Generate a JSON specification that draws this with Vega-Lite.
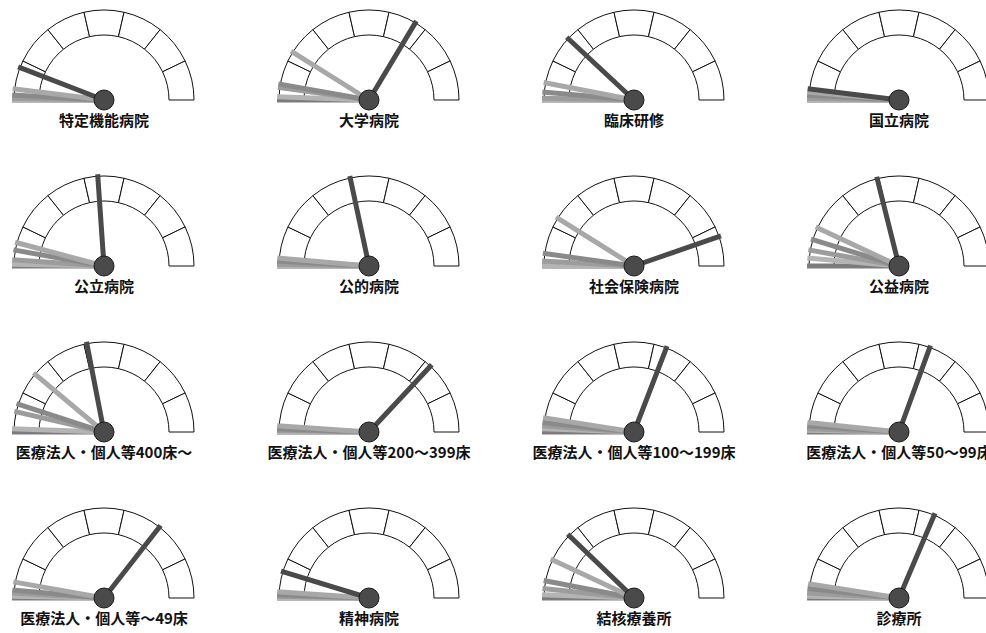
{
  "$schema": "https://vega.github.io/schema/vega-lite/v6.json",
  "width": 986,
  "height": 633,
  "autosize": {"type": "none"},
  "padding": 0,
  "background": "white",
  "config": {"view": {"stroke": null}},
  "datasets": {
    "gauges": [
      {"name": "特定機能病院", "col": 0, "row": 0, "a": [0,1,2,3,4,5,6], "b": [1,2,3,4,5,6,7]},
      {"name": "大学病院", "col": 1, "row": 0, "a": [0,1,2,3,4,5,6], "b": [1,2,3,4,5,6,7]},
      {"name": "臨床研修", "col": 2, "row": 0, "a": [0,1,2,3,4,5,6], "b": [1,2,3,4,5,6,7]},
      {"name": "国立病院", "col": 3, "row": 0, "a": [0,1,2,3,4,5,6], "b": [1,2,3,4,5,6,7]},
      {"name": "公立病院", "col": 0, "row": 1, "a": [0,1,2,3,4,5,6], "b": [1,2,3,4,5,6,7]},
      {"name": "公的病院", "col": 1, "row": 1, "a": [0,1,2,3,4,5,6], "b": [1,2,3,4,5,6,7]},
      {"name": "社会保険病院", "col": 2, "row": 1, "a": [0,1,2,3,4,5,6], "b": [1,2,3,4,5,6,7]},
      {"name": "公益病院", "col": 3, "row": 1, "a": [0,1,2,3,4,5,6], "b": [1,2,3,4,5,6,7]},
      {"name": "医療法人・個人等400床〜", "col": 0, "row": 2, "a": [0,1,2,3,4,5,6], "b": [1,2,3,4,5,6,7]},
      {"name": "医療法人・個人等200〜399床", "col": 1, "row": 2, "a": [0,1,2,3,4,5,6], "b": [1,2,3,4,5,6,7]},
      {"name": "医療法人・個人等100〜199床", "col": 2, "row": 2, "a": [0,1,2,3,4,5,6], "b": [1,2,3,4,5,6,7]},
      {"name": "医療法人・個人等50〜99床", "col": 3, "row": 2, "a": [0,1,2,3,4,5,6], "b": [1,2,3,4,5,6,7]},
      {"name": "医療法人・個人等〜49床", "col": 0, "row": 3, "a": [0,1,2,3,4,5,6], "b": [1,2,3,4,5,6,7]},
      {"name": "精神病院", "col": 1, "row": 3, "a": [0,1,2,3,4,5,6], "b": [1,2,3,4,5,6,7]},
      {"name": "結核療養所", "col": 2, "row": 3, "a": [0,1,2,3,4,5,6], "b": [1,2,3,4,5,6,7]},
      {"name": "診療所", "col": 3, "row": 3, "a": [0,1,2,3,4,5,6], "b": [1,2,3,4,5,6,7]}
    ],
    "needles": [
      {"g": "特定機能病院", "s": "6", "v": 0}, {"g": "特定機能病院", "s": "5", "v": 0}, {"g": "特定機能病院", "s": "4", "v": 0.6}, {"g": "特定機能病院", "s": "3", "v": 1.7}, {"g": "特定機能病院", "s": "2", "v": 3.9}, {"g": "特定機能病院", "s": "1", "v": 11.7},
      {"g": "大学病院", "s": "6", "v": 0}, {"g": "大学病院", "s": "5", "v": 1.1}, {"g": "大学病院", "s": "4", "v": 4.4}, {"g": "大学病院", "s": "3", "v": 5.6}, {"g": "大学病院", "s": "2", "v": 17.8}, {"g": "大学病院", "s": "1", "v": 67.2},
      {"g": "臨床研修", "s": "6", "v": 0}, {"g": "臨床研修", "s": "5", "v": 0}, {"g": "臨床研修", "s": "4", "v": 0.6}, {"g": "臨床研修", "s": "3", "v": 2.8}, {"g": "臨床研修", "s": "2", "v": 6.1}, {"g": "臨床研修", "s": "1", "v": 23.9},
      {"g": "国立病院", "s": "6", "v": 0}, {"g": "国立病院", "s": "5", "v": 0}, {"g": "国立病院", "s": "4", "v": 0.6}, {"g": "国立病院", "s": "3", "v": 1.7}, {"g": "国立病院", "s": "2", "v": 2.8}, {"g": "国立病院", "s": "1", "v": 3.9},
      {"g": "公立病院", "s": "6", "v": 0}, {"g": "公立病院", "s": "5", "v": 0.6}, {"g": "公立病院", "s": "4", "v": 2.2}, {"g": "公立病院", "s": "3", "v": 5.6}, {"g": "公立病院", "s": "2", "v": 8.3}, {"g": "公立病院", "s": "1", "v": 47.8},
      {"g": "公的病院", "s": "6", "v": 0}, {"g": "公的病院", "s": "5", "v": 0}, {"g": "公的病院", "s": "4", "v": 0.6}, {"g": "公的病院", "s": "3", "v": 1.7}, {"g": "公的病院", "s": "2", "v": 2.8}, {"g": "公的病院", "s": "1", "v": 43.3},
      {"g": "社会保険病院", "s": "6", "v": 0}, {"g": "社会保険病院", "s": "5", "v": 0}, {"g": "社会保険病院", "s": "4", "v": 1.7}, {"g": "社会保険病院", "s": "3", "v": 4.4}, {"g": "社会保険病院", "s": "2", "v": 17.8}, {"g": "社会保険病院", "s": "1", "v": 89.4},
      {"g": "公益病院", "s": "6", "v": 0}, {"g": "公益病院", "s": "5", "v": 2.8}, {"g": "公益病院", "s": "4", "v": 5.6}, {"g": "公益病院", "s": "3", "v": 9.4}, {"g": "公益病院", "s": "2", "v": 13.9}, {"g": "公益病院", "s": "1", "v": 42.2},
      {"g": "医療法人・個人等400床〜", "s": "6", "v": 0}, {"g": "医療法人・個人等400床〜", "s": "5", "v": 1.1}, {"g": "医療法人・個人等400床〜", "s": "4", "v": 7.2}, {"g": "医療法人・個人等400床〜", "s": "3", "v": 10.0}, {"g": "医療法人・個人等400床〜", "s": "2", "v": 22.2}, {"g": "医療法人・個人等400床〜", "s": "1", "v": 43.9},
      {"g": "医療法人・個人等200〜399床", "s": "6", "v": 0}, {"g": "医療法人・個人等200〜399床", "s": "5", "v": 0}, {"g": "医療法人・個人等200〜399床", "s": "4", "v": 0.6}, {"g": "医療法人・個人等200〜399床", "s": "3", "v": 1.1}, {"g": "医療法人・個人等200〜399床", "s": "2", "v": 2.2}, {"g": "医療法人・個人等200〜399床", "s": "1", "v": 73.9},
      {"g": "医療法人・個人等100〜199床", "s": "6", "v": 0}, {"g": "医療法人・個人等100〜199床", "s": "5", "v": 1.1}, {"g": "医療法人・個人等100〜199床", "s": "4", "v": 2.2}, {"g": "医療法人・個人等100〜199床", "s": "3", "v": 3.3}, {"g": "医療法人・個人等100〜199床", "s": "2", "v": 5.0}, {"g": "医療法人・個人等100〜199床", "s": "1", "v": 61.7},
      {"g": "医療法人・個人等50〜99床", "s": "6", "v": 0}, {"g": "医療法人・個人等50〜99床", "s": "5", "v": 0.6}, {"g": "医療法人・個人等50〜99床", "s": "4", "v": 1.1}, {"g": "医療法人・個人等50〜99床", "s": "3", "v": 2.2}, {"g": "医療法人・個人等50〜99床", "s": "2", "v": 3.3}, {"g": "医療法人・個人等50〜99床", "s": "1", "v": 61.1},
      {"g": "医療法人・個人等〜49床", "s": "6", "v": 0}, {"g": "医療法人・個人等〜49床", "s": "5", "v": 0.6}, {"g": "医療法人・個人等〜49床", "s": "4", "v": 1.7}, {"g": "医療法人・個人等〜49床", "s": "3", "v": 2.8}, {"g": "医療法人・個人等〜49床", "s": "2", "v": 5.6}, {"g": "医療法人・個人等〜49床", "s": "1", "v": 71.1},
      {"g": "精神病院", "s": "6", "v": 0}, {"g": "精神病院", "s": "5", "v": 0}, {"g": "精神病院", "s": "4", "v": 0.6}, {"g": "精神病院", "s": "3", "v": 1.1}, {"g": "精神病院", "s": "2", "v": 2.2}, {"g": "精神病院", "s": "1", "v": 9.4},
      {"g": "結核療養所", "s": "6", "v": 0}, {"g": "結核療養所", "s": "5", "v": 1.1}, {"g": "結核療養所", "s": "4", "v": 3.3}, {"g": "結核療養所", "s": "3", "v": 6.1}, {"g": "結核療養所", "s": "2", "v": 13.9}, {"g": "結核療養所", "s": "1", "v": 24.4},
      {"g": "診療所", "s": "6", "v": 0}, {"g": "診療所", "s": "5", "v": 0.6}, {"g": "診療所", "s": "4", "v": 1.7}, {"g": "診療所", "s": "3", "v": 3.3}, {"g": "診療所", "s": "2", "v": 5.0}, {"g": "診療所", "s": "1", "v": 62.8}
    ]
  },
  "encoding": {
    "x": {"field": "col", "type": "quantitative", "axis": null, "scale": {"domain": [-0.3925, 3.3283], "nice": false, "zero": false}},
    "y": {"field": "row", "type": "quantitative", "axis": null, "scale": {"domain": [-0.6024, 3.2108], "nice": false, "zero": false, "reverse": true}}
  },
  "layer": [
    {
      "data": {"name": "gauges"},
      "transform": [{"flatten": ["a", "b"]}],
      "mark": {"type": "arc", "innerRadius": 65, "outerRadius": 90, "fill": "white", "stroke": "#111111", "strokeWidth": 1},
      "encoding": {
        "theta": {"field": "a", "type": "quantitative", "stack": null, "scale": {"domain": [0, 7], "range": [-1.5708, 1.5708]}},
        "theta2": {"field": "b"}
      }
    },
    {
      "data": {"name": "needles"},
      "transform": [{"lookup": "g", "from": {"data": {"name": "gauges"}, "key": "name", "fields": ["col", "row"]}}],
      "mark": {"type": "arc", "innerRadius": 0, "outerRadius": 92, "fill": null, "strokeWidth": 5, "strokeJoin": "bevel"},
      "encoding": {
        "theta": {"field": "v", "type": "quantitative", "stack": null, "scale": {"domain": [0, 100], "range": [-1.5708, 1.5708]}},
        "theta2": {"field": "v"},
        "stroke": {"field": "s", "type": "nominal", "legend": null, "scale": {"domain": ["1", "2", "3", "4", "5", "6"], "range": ["#4a4a4a", "#a8a8a8", "#8a8a8a", "#9c9c9c", "#b4b4b4", "#7c7c7c"]}}
      }
    },
    {
      "data": {"name": "gauges"},
      "mark": {"type": "circle", "size": 400, "fill": "#4a4a4a", "stroke": "#1a1a1a", "strokeWidth": 1, "opacity": 1},
      "encoding": {}
    },
    {
      "data": {"name": "gauges"},
      "mark": {"type": "text", "dy": 21, "baseline": "middle", "align": "center", "font": "Noto Sans CJK JP", "fontSize": 15, "fontWeight": "bold", "fill": "#111111"},
      "encoding": {"text": {"field": "name", "type": "nominal"}}
    }
  ],
  "resolve": {"scale": {"theta": "independent"}}
}
